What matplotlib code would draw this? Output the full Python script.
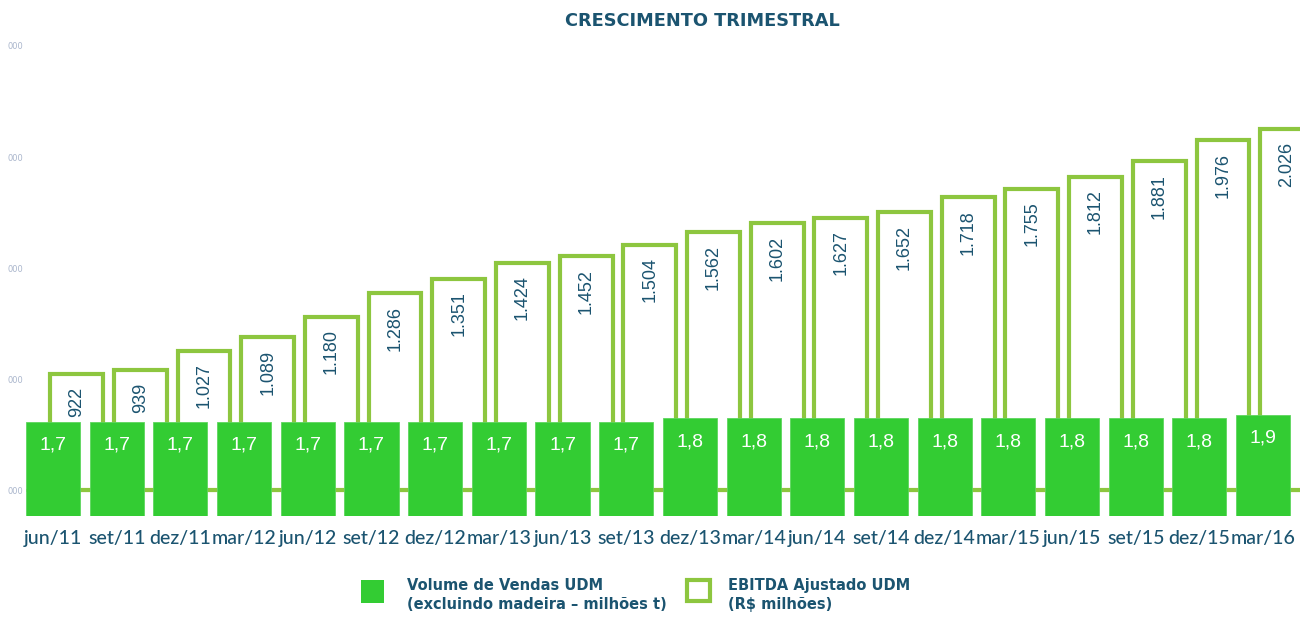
import matplotlib
matplotlib.use("Agg")
import matplotlib.pyplot as plt
from matplotlib.patches import Rectangle

# quarterly growth - volume vs adjusted EBITDA (LTM)

quarters = ["jun/11", "set/11", "dez/11", "mar/12", "jun/12", "set/12", "dez/12",
            "mar/13", "jun/13", "set/13", "dez/13", "mar/14", "jun/14", "set/14",
            "dez/14", "mar/15", "jun/15", "set/15", "dez/15", "mar/16"]
volume = [1.7, 1.7, 1.7, 1.7, 1.7, 1.7, 1.7, 1.7, 1.7, 1.7,
          1.8, 1.8, 1.8, 1.8, 1.8, 1.8, 1.8, 1.8, 1.8, 1.9]
ebitda = [922, 939, 1027, 1089, 1180, 1286, 1351, 1424, 1452, 1504,
          1562, 1602, 1627, 1652, 1718, 1755, 1812, 1881, 1976, 2026]
ebitda_ticks = [400, 900, 1400, 1900, 2400]

fill_green = "#33cc33"
line_green = "#8dc63f"
teal = "#1b5470"

W, H = 1300, 617
fig = plt.figure(figsize=(W / 100, H / 100), dpi=100)
fig.patch.set_facecolor("white")

# axes box in pixels (from top-left)
left, right, top, bottom = 26, 1300, 40, 516
ax = fig.add_axes([left / W, 1 - bottom / H, (right - left) / W, (bottom - top) / H])
ax2 = ax.twinx()

x = list(range(len(quarters)))
base = ebitda_ticks[0]

# EBITDA: hollow bars, shifted right
ax.bar([i + 0.37 for i in x], [v - base for v in ebitda], bottom=base, width=0.83,
       facecolor="white", edgecolor=line_green, linewidth=3.0, zorder=2)
ax.axhline(base, color=line_green, linewidth=2.2, zorder=1)
for i, v in zip(x, ebitda):
    ax.annotate(f"{v:,}".replace(",", "."), (i + 0.37, v), xytext=(0, -9),
                textcoords="offset points", rotation=90, ha="center", va="top",
                fontsize=13, color=teal, family="Liberation Sans", zorder=3)

ax.set_ylim(283, 2427)
ax.set_xlim(-0.425, 19.58)
ax.set_yticks(ebitda_ticks)
ax.set_yticklabels(["000"] * len(ebitda_ticks), fontsize=6, color="#aab6cc")
ax.tick_params(axis="y", length=0, pad=2)
ax.set_xticks(x)
ax.set_xticklabels(quarters, fontsize=14, color=teal, family="Lato", fontweight="medium")
ax.tick_params(axis="x", length=0, pad=10)

# volume: filled bars on secondary scale (scale starts below zero)
vol_base = -1.0
ax2.bar(x, [v - vol_base for v in volume], bottom=vol_base, width=0.85, color=fill_green,
        edgecolor="#5ed65e", linewidth=0.6, zorder=2)
for i, v in zip(x, volume):
    ax2.annotate(f"{v:.1f}".replace(".", ","), (i, v), xytext=(0, -11),
                 textcoords="offset points", ha="center", va="top",
                 fontsize=14, color="white", family="Liberation Sans")
ax2.set_ylim(vol_base, vol_base + 13.6)
ax2.set_yticks([])

for a in (ax, ax2):
    for s in a.spines.values():
        s.set_visible(False)
ax2.patch.set_visible(False)

fig.text(702 / W, 1 - 21 / H, "CRESCIMENTO TRIMESTRAL", ha="center", va="center",
         fontsize=12.8, fontweight="bold", color=teal, family="DejaVu Sans")

# legend
fig.add_artist(Rectangle((361 / W, 1 - 603 / H), 23 / W, 23 / H, transform=fig.transFigure,
                         facecolor=fill_green, edgecolor="none"))
fig.text(407 / W, 1 - 595 / H, "Volume de Vendas UDM\n(excluindo madeira \u2013 milhões t)",
         ha="left", va="center", fontsize=10.5, fontweight="bold", color=teal,
         family="DejaVu Sans", linespacing=1.3)
fig.add_artist(Rectangle((687 / W, 1 - 601 / H), 23 / W, 21 / H, transform=fig.transFigure,
                         facecolor="white", edgecolor=line_green, linewidth=3.0))
fig.text(728 / W, 1 - 595 / H, "EBITDA Ajustado UDM\n(R$ milhões)",
         ha="left", va="center", fontsize=10.5, fontweight="bold", color=teal,
         family="DejaVu Sans", linespacing=1.3)

fig.savefig("out.png", dpi=100)
